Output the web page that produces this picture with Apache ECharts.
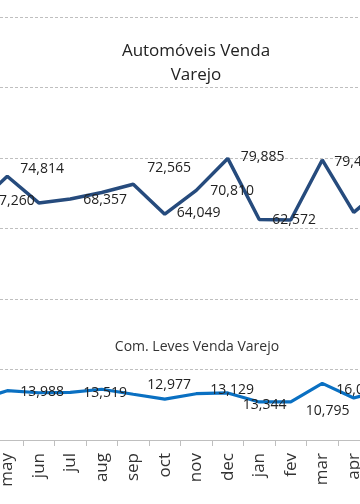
<!DOCTYPE html>
<html>
<head>
<meta charset="utf-8">
<script src="https://cdn.jsdelivr.net/npm/echarts@6/dist/echarts.min.js"></script>
<style>
html,body{margin:0;padding:0;background:#fff;}
#chart{width:360px;height:504px;}
</style>
</head>
<body>
<div id="chart"></div>
<script>
// Categories (first and last are partially outside the visible crop)
const categories = ['apr','may','jun','jul','aug','sep','oct','nov','dec','jan','fev','mar','apr','may'];
// Automóveis Venda Varejo
const autoValues = [66500, 74814, 67260, 68357, 70200, 72565, 64049, 70810, 79885, 62572, 62400, 79450, 64600, 72000];
// Com. Leves Venda Varejo
const leveValues = [11200, 13988, 13400, 13519, 14400, 12977, 11600, 13129, 13344, 10800, 10795, 16050, 11900, 14500];
const yTicks = {min: 0, max: 120000, interval: 20000};

// label placement (style only): index -> [position, dy, distance]
const autoLabelCfg = {1:['right',-7,11],2:['left',-2,2],3:['right',1,11],5:['right',-16,12],6:['right',-1,10],7:['right',1,12],8:['right',-1,11],9:['right',1,11],11:['right',2,10]};
const leveLabelCfg = {1:['right',1,11],3:['right',1,11],5:['right',-9,12],7:['right',-4,12],8:['right',12,13],10:['right',9,13],11:['right',7,12]};

function build(values, cfg){
  return values.map((v,i)=>{
    const c = cfg[i];
    if(!c) return {value:v, label:{show:false}};
    return {value:v, label:{show:true, position:c[0], offset:[0,c[1]], distance:c[2]}};
  });
}

const FONT = 'Open Sans';
const chart = echarts.init(document.getElementById('chart'), null, {renderer:'canvas'});
chart.setOption({
  animation:false,
  backgroundColor:'#ffffff',
  grid:{left:-40, width:441, top:17, bottom:64, containLabel:false, outerBoundsMode:'none'},
  graphic:[
    {type:'text', x:196, y:63, style:{text:'Automóveis Venda\nVarejo', fill:'#222', font:'17px "Open Sans"', textAlign:'center', textVerticalAlign:'middle', lineHeight:24}},
    {type:'text', x:197, y:347, style:{text:'Com. Leves Venda Varejo', fill:'#333', font:'14px "Open Sans"', textAlign:'center', textVerticalAlign:'middle'}}
  ],
  xAxis:{
    type:'category', data:categories, boundaryGap:true,
    axisLine:{show:true, lineStyle:{color:'#bfbfbf', width:1}},
    axisTick:{show:true, length:6, lineStyle:{color:'#bfbfbf'}},
    axisLabel:{rotate:90, interval:0, margin:13, fontSize:17, color:'#333', fontFamily:FONT, hideOverlap:false},
    splitLine:{show:false}
  },
  yAxis:{
    type:'value', min:yTicks.min, max:yTicks.max, interval:yTicks.interval,
    axisLine:{show:false}, axisTick:{show:false}, axisLabel:{show:false},
    splitLine:{show:true, lineStyle:{color:'#bfbfbf', type:[3,2], width:1}}
  },
  series:[
    {type:'line', name:'Automóveis Venda Varejo', data:build(autoValues, autoLabelCfg), showSymbol:true, symbol:'circle', symbolSize:4,
     lineStyle:{color:'#264b7d', width:3.5}, itemStyle:{color:'rgba(0,0,0,0)', borderWidth:0},
     label:{fontSize:14, color:'#222', fontFamily:FONT, formatter:p=>p.value.toLocaleString('en-US')}},
    {type:'line', name:'Com. Leves Venda Varejo', data:build(leveValues, leveLabelCfg), showSymbol:true, symbol:'circle', symbolSize:4,
     lineStyle:{color:'#0a70c2', width:3.2}, itemStyle:{color:'rgba(0,0,0,0)', borderWidth:0},
     label:{fontSize:14, color:'#222', fontFamily:FONT, formatter:p=>p.value.toLocaleString('en-US')}}
  ]
});
</script>
</body>
</html>
